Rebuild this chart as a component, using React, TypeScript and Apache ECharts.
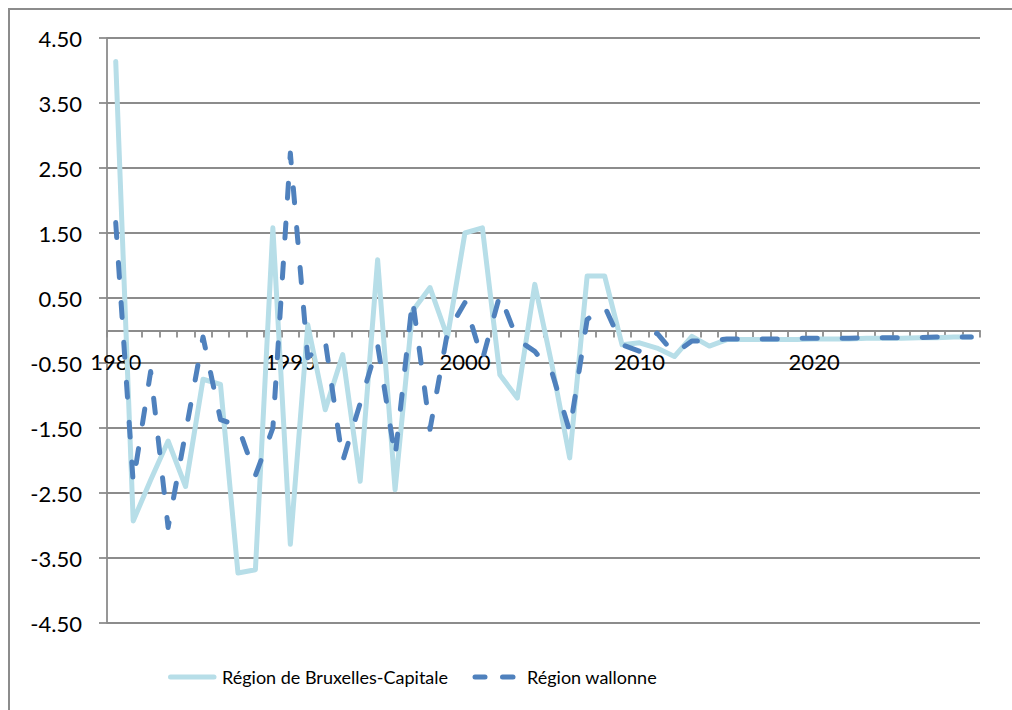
import React, { useEffect, useRef } from "react";
import * as echarts from "echarts";

const years: string[] = [
  "1980", "1981", "1982", "1983", "1984", "1985", "1986", "1987", "1988", "1989",
  "1990", "1991", "1992", "1993", "1994", "1995", "1996", "1997", "1998", "1999",
  "2000", "2001", "2002", "2003", "2004", "2005", "2006", "2007", "2008", "2009",
  "2010", "2011", "2012", "2013", "2014", "2015", "2016", "2017", "2018", "2019",
  "2020", "2021", "2022", "2023", "2024", "2025", "2026", "2027", "2028", "2029",
];

const bruxelles: number[] = [
  4.14, -2.93, -2.30, -1.70, -2.40, -0.75, -0.83, -3.73, -3.68, 1.58,
  -3.29, 0.09, -1.22, -0.37, -2.32, 1.09, -2.45, 0.30, 0.66, -0.10,
  1.50, 1.58, -0.68, -1.04, 0.71, -0.55, -1.96, 0.84, 0.84, -0.22,
  -0.19, -0.27, -0.40, -0.09, -0.24, -0.14, -0.14, -0.14, -0.14, -0.14,
  -0.13, -0.13, -0.13, -0.12, -0.12, -0.12, -0.11, -0.11, -0.10, -0.10,
];

const wallonne: number[] = [
  1.66, -2.34, -0.63, -3.03, -1.57, -0.10, -1.37, -1.47, -2.23, -1.50,
  2.73, -0.42, -0.16, -2.01, -1.12, -0.22, -1.95, 0.48, -1.52, -0.03,
  0.43, -0.45, 0.55, -0.14, -0.32, -0.66, -1.55, 0.17, 0.37, -0.22,
  -0.32, -0.04, -0.36, -0.16, -0.16, -0.13, -0.13, -0.13, -0.13, -0.12,
  -0.12, -0.12, -0.12, -0.11, -0.11, -0.11, -0.11, -0.10, -0.10, -0.10,
];

const seriesNames = ["Région de Bruxelles-Capitale", "Région wallonne"];
const colors = ["#B7DEE8", "#4F81BD"];

const FONT = "Lato";
const GRID_COLOR = "#8C8C8C";

export default function App() {
  const ref = useRef<HTMLDivElement>(null);

  useEffect(() => {
    if (!ref.current) return;
    const chart = echarts.init(ref.current, undefined, { renderer: "svg" });
    chart.setOption({
      animation: false,
      backgroundColor: "#FFFFFF",
      grid: {
        left: 107,
        top: 38,
        right: 32,
        bottom: 87,
        containLabel: false,
        outerBoundsMode: "none",
      },
      xAxis: {
        type: "category",
        data: years,
        boundaryGap: true,
        position: "bottom",
        offset: -292.5,
        axisLine: { show: true, onZero: false, lineStyle: { color: GRID_COLOR, width: 1.8 } },
        axisTick: { show: true, interval: 0, length: 7, lineStyle: { color: GRID_COLOR, width: 1.8 } },
        axisLabel: {
          interval: 9,
          margin: 20,
          color: "#000000",
          fontFamily: FONT,
          fontSize: 22,
        },
        splitLine: { show: false },
      },
      yAxis: {
        type: "value",
        min: -4.5,
        max: 4.5,
        interval: 1,
        axisLine: { show: true, onZero: false, lineStyle: { color: GRID_COLOR, width: 1.8 } },
        axisTick: { show: true, length: 8, lineStyle: { color: GRID_COLOR, width: 1.8 } },
        axisLabel: {
          margin: 25,
          color: "#000000",
          fontFamily: FONT,
          fontSize: 22,
          formatter: (v: number) => v.toFixed(2),
        },
        splitLine: { show: true, lineStyle: { color: GRID_COLOR, width: 1.8 } },
      },
      series: [
        {
          name: seriesNames[0],
          type: "line",
          data: bruxelles,
          symbol: "none",
          lineStyle: { color: colors[0], width: 5, cap: "round", join: "round" },
          z: 2,
        },
        {
          name: seriesNames[1],
          type: "line",
          data: wallonne,
          symbol: "none",
          lineStyle: { color: colors[1], width: 5, type: [15, 25], cap: "round", join: "round" },
          z: 3,
        },
      ],
      graphic: [
        {
          type: "rect",
          shape: { x: 9, y: 9, width: 1100, height: 800 },
          style: { fill: "none", stroke: GRID_COLOR, lineWidth: 2 },
          silent: true,
          z: -10,
        },
        {
          type: "line",
          shape: { x1: 170.5, y1: 677, x2: 214, y2: 677 },
          style: { stroke: colors[0], lineWidth: 5, lineCap: "round" },
        },
        {
          type: "text",
          x: 222,
          y: 677,
          style: {
            text: seriesNames[0],
            fontFamily: FONT,
            fontSize: 18,
            fill: "#000000",
            textVerticalAlign: "middle",
            verticalAlign: "middle",
          },
        },
        {
          type: "line",
          shape: { x1: 475, y1: 677, x2: 485, y2: 677 },
          style: { stroke: colors[1], lineWidth: 5, lineCap: "round" },
        },
        {
          type: "line",
          shape: { x1: 502.5, y1: 677, x2: 513, y2: 677 },
          style: { stroke: colors[1], lineWidth: 5, lineCap: "round" },
        },
        {
          type: "text",
          x: 527,
          y: 677,
          style: {
            text: seriesNames[1],
            fontFamily: FONT,
            fontSize: 18,
            fill: "#000000",
            textVerticalAlign: "middle",
            verticalAlign: "middle",
          },
        },
      ],
    });
    return () => chart.dispose();
  }, []);

  return (
    <div
      ref={ref}
      style={{ position: "fixed", left: 0, top: 0, width: 1012, height: 710, background: "#fff" }}
    />
  );
}
